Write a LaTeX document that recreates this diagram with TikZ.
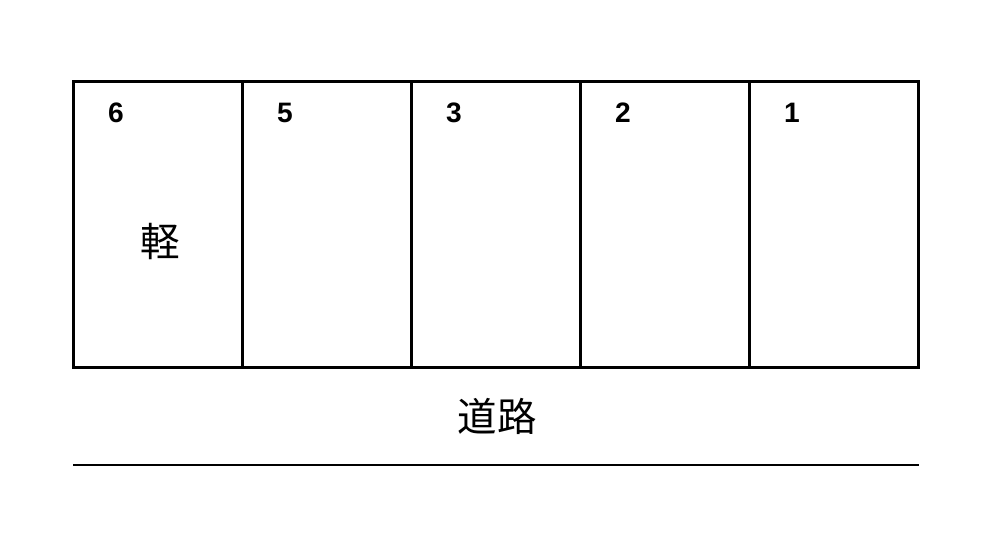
\documentclass[tikz,border=0pt]{standalone}
\usepackage{fontspec}
\setmainfont{Liberation Sans}
\newfontfamily\cjk{Noto Sans CJK JP}
\usetikzlibrary{positioning}

\begin{document}
\begin{tikzpicture}[x=0.02cm, y=-0.02cm, every node/.style={inner sep=0pt, outer sep=0pt}]
    \tikzstyle stall=[draw, line width=1.7pt, minimum width=3.38cm, minimum height=5.74cm]
    \tikzstyle stall number=[font=\fontsize{16}{16}\selectfont\bfseries]
    \tikzstyle kanji label=[font=\cjk\fontsize{22.5}{22.5}\selectfont]
    \tikzstyle road line=[line width=0.6pt]

\useasboundingbox (0,0) rectangle (1002,541);

    % stalls from left to right, each 169 wide
    \foreach \n [count=\i from 0] in {6,5,3,2,1}
        \node[stall] (stall\n) at (158+\i*169, 224.5) {};
    % numbers in the top left of each stall
    \foreach \n in {6,5,3,2,1}
        \node[stall number, below right=0.64cm and 0.85cm of stall\n.north west, anchor=center] (num\n) {\n};

    \node[kanji label] (kei) at (160, 241) {軽};

    % road
    \node[kanji label] (road) at (497, 416) {道路};
    \coordinate (road west) at (73, 465);
    \coordinate (road east) at (919, 465);
    \draw[style=road line] (road west) -- (road east);
\end{tikzpicture}
\end{document}
